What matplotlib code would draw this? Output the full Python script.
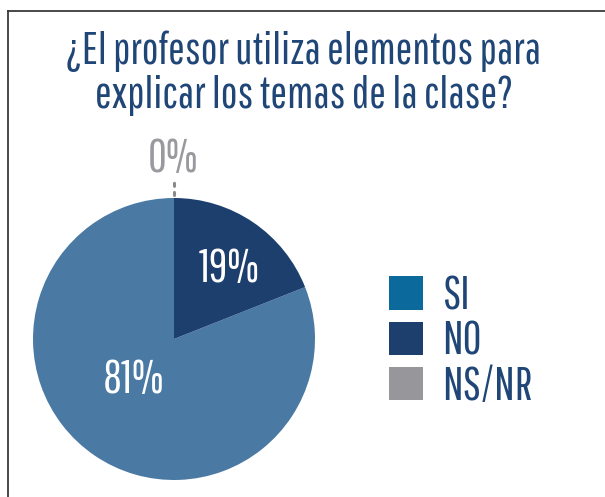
import matplotlib
matplotlib.use("Agg")
import matplotlib.pyplot as plt
from matplotlib.patches import Patch
from matplotlib.lines import Line2D

plt.rcParams['font.family'] = ['Pathway Gothic One', 'DejaVu Sans']

title = "¿El profesor utiliza elementos para\nexplicar los temas de la clase?"
categories = ["SI", "NO", "NS/NR"]
values = [81, 19, 0]
pie_colors = ["#4a7aa4", "#1c3f6e", "#97979b"]
legend_colors = ["#0b6a9b", "#1c3f6e", "#97979b"]
text_color = "#1f4676"

fig = plt.figure(figsize=(6.05, 4.97), dpi=100)

# frame (left + top)
fx, fy = 8 / 605, 1 - 11 / 497
fig.add_artist(Line2D([fx, fx], [0, fy], color="#3a3a3a", lw=1.3))
fig.add_artist(Line2D([fx, 1], [fy, fy], color="#3a3a3a", lw=1.3))

fig.text(0.502, 0.852, title, ha="center", va="center", fontsize=32,
         color=text_color, linespacing=1.08)

cx, cy, r = 174 / 605, (497 - 339) / 497, 141
w, h = 2 * r / 605, 2 * r / 497
ax = fig.add_axes([cx - w / 2, cy - h / 2, w, h])
wedges, _ = ax.pie(values, colors=pie_colors, startangle=90, counterclock=True,
                   radius=1, wedgeprops=dict(linewidth=0))
ax.set_xlim(-1, 1)
ax.set_ylim(-1, 1)
ax.set_aspect("equal")
ax.axis("off")

lab = dict(ha="center", va="center", fontsize=33)
ax.text(-0.29, -0.29, f"{values[0]}%", color="white", **lab)
ax.text(0.39, 0.50, f"{values[1]}%", color="white", **lab)
ax.text(-0.01, 1.28, f"{values[2]}%", color="#9a9a9e", clip_on=False, **lab)
ax.plot([0, 0], [1.02, 1.13], linestyle=(0, (1, 2)), color="#8a8a8e",
        lw=2.2, clip_on=False, solid_capstyle="round", dash_capstyle="round")

handles = [Patch(facecolor=c, edgecolor="none") for c in legend_colors]
leg = fig.legend(handles, categories, loc="upper left",
                 bbox_to_anchor=(389 / 605, 1 - 274 / 497), frameon=False,
                 prop=dict(family="Pathway Gothic One", size=33),
                 handlelength=0.75, handleheight=0.75, borderaxespad=0,
                 handletextpad=0.4, labelspacing=0.05, borderpad=0)
for t in leg.get_texts():
    t.set_color(text_color)

fig.savefig("out.png", dpi=100)
